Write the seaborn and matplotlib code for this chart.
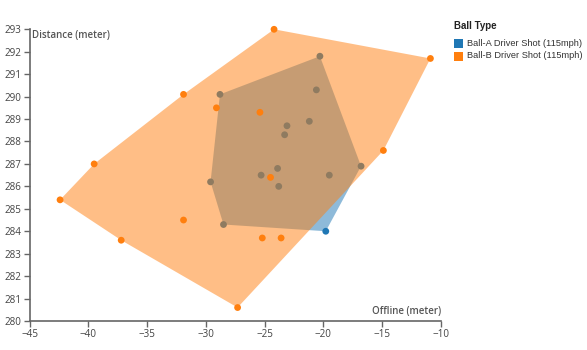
import numpy as np
import pandas as pd
import matplotlib
matplotlib.use("Agg")
import matplotlib.pyplot as plt
from matplotlib.patches import Rectangle
import seaborn as sns

# Shot dispersion: lateral offline (m) vs carry distance (m)
ball_a_offline = [-28.8, -20.3, -20.6, -21.2, -23.1, -23.3, -23.9, -25.3, -19.5, -16.8, -29.6, -23.8, -28.5, -19.8]
ball_a_distance = [290.1, 291.8, 290.3, 288.9, 288.7, 288.3, 286.8, 286.5, 286.5, 286.9, 286.2, 286.0, 284.3, 284.0]

ball_b_offline = [-24.2, -10.9, -31.9, -29.1, -25.4, -39.5, -14.9, -42.4, -31.9, -37.2, -27.3, -25.2, -23.6, -24.5]
ball_b_distance = [293.0, 291.7, 290.1, 289.5, 289.3, 287.0, 287.6, 285.4, 284.5, 283.6, 280.6, 283.7, 283.7, 286.4]

series_names = ["Ball-A Driver Shot (115mph)", "Ball-B Driver Shot (115mph)"]
series_colors = ["#1f77b4", "#ff7f0e"]
legend_title = "Ball Type"

x_domain = [-45, -10]
y_domain = [280, 293]
x_ticks = [-45, -40, -35, -30, -25, -20, -15, -10]
y_ticks = list(range(280, 294))

df = pd.concat([
    pd.DataFrame({"offline": ball_a_offline, "distance": ball_a_distance, "ball": series_names[0]}),
    pd.DataFrame({"offline": ball_b_offline, "distance": ball_b_distance, "ball": series_names[1]}),
], ignore_index=True)


def convex_hull(points):
    pts = sorted(set(points))
    if len(pts) <= 2:
        return pts

    def cross(o, a, b):
        return (a[0] - o[0]) * (b[1] - o[1]) - (a[1] - o[1]) * (b[0] - o[0])

    lower, upper = [], []
    for p in pts:
        while len(lower) >= 2 and cross(lower[-2], lower[-1], p) <= 0:
            lower.pop()
        lower.append(p)
    for p in reversed(pts):
        while len(upper) >= 2 and cross(upper[-2], upper[-1], p) <= 0:
            upper.pop()
        upper.append(p)
    return lower[:-1] + upper[:-1]


sns.set_theme(style="white")
plt.rcParams["font.family"] = ["Open Sans", "DejaVu Sans"]
plt.rcParams["axes.unicode_minus"] = True

W, H = 587, 350
fig = plt.figure(figsize=(W / 100, H / 100), dpi=100)
ax_left, ax_right, ax_top, ax_bottom = 29.5, 441, 29.3, 321
ax = fig.add_axes([ax_left / W, (H - ax_bottom) / H, (ax_right - ax_left) / W, (ax_bottom - ax_top) / H])

for i, (name, color) in enumerate(zip(series_names, series_colors)):
    sub = df[df["ball"] == name]
    hull = convex_hull(list(zip(sub["offline"], sub["distance"])))
    hx, hy = zip(*hull)
    ax.fill(hx, hy, color=color, alpha=0.5, lw=0, zorder=2 + 2 * i, clip_on=False)
    sns.scatterplot(data=sub, x="offline", y="distance", color=color, s=24,
                    edgecolor="none", linewidth=0, ax=ax, zorder=3 + 2 * i,
                    legend=False, clip_on=False)

ax.set_xlim(x_domain)
ax.set_ylim(y_domain)
ax.set_xticks(x_ticks)
ax.set_yticks(y_ticks)
ax.set_xlabel("")
ax.set_ylabel("")

axis_color = "#666666"
for side in ["top", "right"]:
    ax.spines[side].set_visible(False)
for side in ["left", "bottom"]:
    ax.spines[side].set_color(axis_color)
    ax.spines[side].set_linewidth(1.2)
ax.tick_params(axis="both", direction="out", length=4.5, width=1, color=axis_color,
               labelsize=7.1, labelcolor="#444444", pad=1.5)
ax.tick_params(axis="x", bottom=True)
ax.tick_params(axis="y", left=True)
ax.set_facecolor("white")

ax.text(0.006, 0.996, "Distance (meter)", transform=ax.transAxes, ha="left", va="top",
        fontsize=7.0, color="#555555", fontweight="semibold")
ax.text(1.0, 0.014, "Offline (meter)", transform=ax.transAxes, ha="right", va="bottom",
        fontsize=7.0, color="#555555", fontweight="semibold")

# Legend
fig.text(454 / W, 1 - 26 / H, legend_title, ha="left", va="center", fontsize=7,
         fontweight="bold", color="#222222", family=["Liberation Sans", "DejaVu Sans"])
for i, (name, color) in enumerate(zip(series_names, series_colors)):
    cy = 43 + 13 * i
    fig.patches.append(Rectangle((454 / W, 1 - (cy + 4.5) / H), 9 / W, 9 / H,
                                 transform=fig.transFigure, facecolor=color, edgecolor="none"))
    fig.text(467 / W, 1 - cy / H, name, ha="left", va="center", fontsize=6.7,
             color="#333333", family=["Liberation Sans", "DejaVu Sans"])

fig.savefig("out.png", dpi=100, facecolor="white")
